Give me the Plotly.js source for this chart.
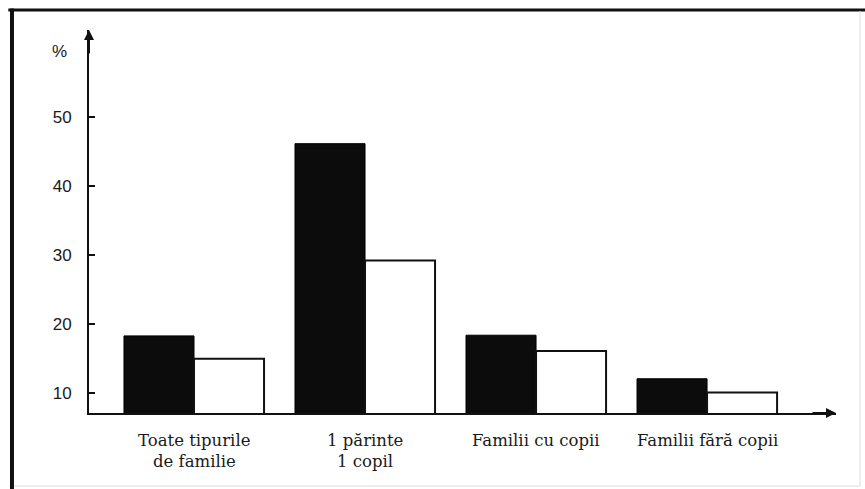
<!DOCTYPE html>
<html>
<head>
<meta charset="utf-8">
<script src="https://cdn.plot.ly/plotly-3.0.1.min.js"></script>
<style>
  html, body { margin: 0; padding: 0; background: #fff; }
  #chart { width: 865px; height: 489px; }
</style>
</head>
<body>
<div id="chart"></div>
<script>
// Data
var catLine1 = ['Toate tipurile', '1 părinte', 'Familii cu copii', 'Familii fără copii'];
var catLine2 = ['de familie', '1 copil', '', ''];
var seriesBlack = [18.3, 46.1, 18.4, 12.1];
var seriesWhite = [15.0, 29.2, 16.1, 10.1];
var yTicks = [10, 20, 30, 40, 50];
var yUnit = '%';

var xIdx = catLine1.map(function (_, i) { return i; });

var traces = [
  {
    type: 'bar', name: 'Seria 1', x: xIdx, y: seriesBlack,
    marker: { color: '#0c0c0c', line: { color: '#000', width: 1 } },
    hoverinfo: 'y'
  },
  {
    type: 'bar', name: 'Seria 2', x: xIdx, y: seriesWhite,
    marker: { color: '#ffffff', line: { color: '#111', width: 2 } },
    hoverinfo: 'y'
  }
];

var serif = 'DejaVu Serif, Liberation Serif, serif';
var annotations = [];
xIdx.forEach(function (i) {
  annotations.push({
    x: i, xref: 'x', y: -0.071, yref: 'paper', xanchor: 'center', yanchor: 'middle',
    text: catLine1[i], showarrow: false,
    font: { family: serif, size: 16.5, color: '#1a1a1a' }
  });
  if (catLine2[i]) {
    annotations.push({
      x: i, xref: 'x', y: -0.127, yref: 'paper', xanchor: 'center', yanchor: 'middle',
      text: catLine2[i], showarrow: false,
      font: { family: serif, size: 16.5, color: '#1a1a1a' }
    });
  }
});
// unit label
annotations.push({
  x: -0.040, xref: 'paper', y: 0.945, yref: 'paper', xanchor: 'center', yanchor: 'middle',
  text: yUnit, showarrow: false,
  font: { family: 'Liberation Sans, Arial, sans-serif', size: 17, color: '#1a1a1a' }
});
// axis arrows
annotations.push({
  x: 0, xref: 'paper', y: 1, yref: 'paper', text: '',
  showarrow: true, ax: 0, ay: 25, arrowhead: 2, arrowsize: 1, arrowwidth: 2, arrowcolor: '#111'
});
annotations.push({
  x: 1, xref: 'paper', y: 0, yref: 'paper', text: '',
  showarrow: true, ax: -25, ay: 0, arrowhead: 2, arrowsize: 1, arrowwidth: 2, arrowcolor: '#111'
});

var shapes = [
  { type: 'line', xref: 'paper', yref: 'paper', x0: -0.1031, x1: -0.1031, y0: 1.056, y1: -0.20,
    line: { color: '#111', width: 4 } },
  { type: 'line', xref: 'paper', yref: 'paper', x0: -0.108, x1: 1.04, y0: 1.0522, y1: 1.0522,
    line: { color: '#111', width: 3 } },
  { type: 'line', xref: 'paper', yref: 'paper', x0: 1.0321, x1: 1.0321, y0: 1.05, y1: -0.1906,
    line: { color: '#dddddd', width: 1 } },
  { type: 'line', xref: 'paper', yref: 'paper', x0: -0.1, x1: 1.0321, y0: -0.1906, y1: -0.1906,
    line: { color: '#dddddd', width: 1 } }
];

var layout = {
  width: 865, height: 489,
  margin: { l: 89, r: 29, t: 30, b: 76 },
  paper_bgcolor: '#ffffff', plot_bgcolor: '#ffffff',
  showlegend: false,
  barmode: 'group', bargap: 0.181, bargroupgap: 0,
  xaxis: {
    range: [-0.614, 3.754], showgrid: false, zeroline: false,
    showline: true, linecolor: '#111', linewidth: 2,
    showticklabels: false, ticks: '', fixedrange: true
  },
  yaxis: {
    range: [7.15, 62.54], showgrid: false, zeroline: false,
    showline: true, linecolor: '#111', linewidth: 2,
    tickmode: 'array', tickvals: yTicks, ticktext: yTicks.map(String),
    ticks: 'inside', ticklen: 6, tickwidth: 2, tickcolor: '#111',
    ticklabelstandoff: 12,
    tickfont: { family: 'Liberation Sans, Arial, sans-serif', size: 17, color: '#1a1a1a' },
    fixedrange: true
  },
  annotations: annotations,
  shapes: shapes
};

Plotly.newPlot('chart', traces, layout, { displayModeBar: false, staticPlot: true });
</script>
</body>
</html>
